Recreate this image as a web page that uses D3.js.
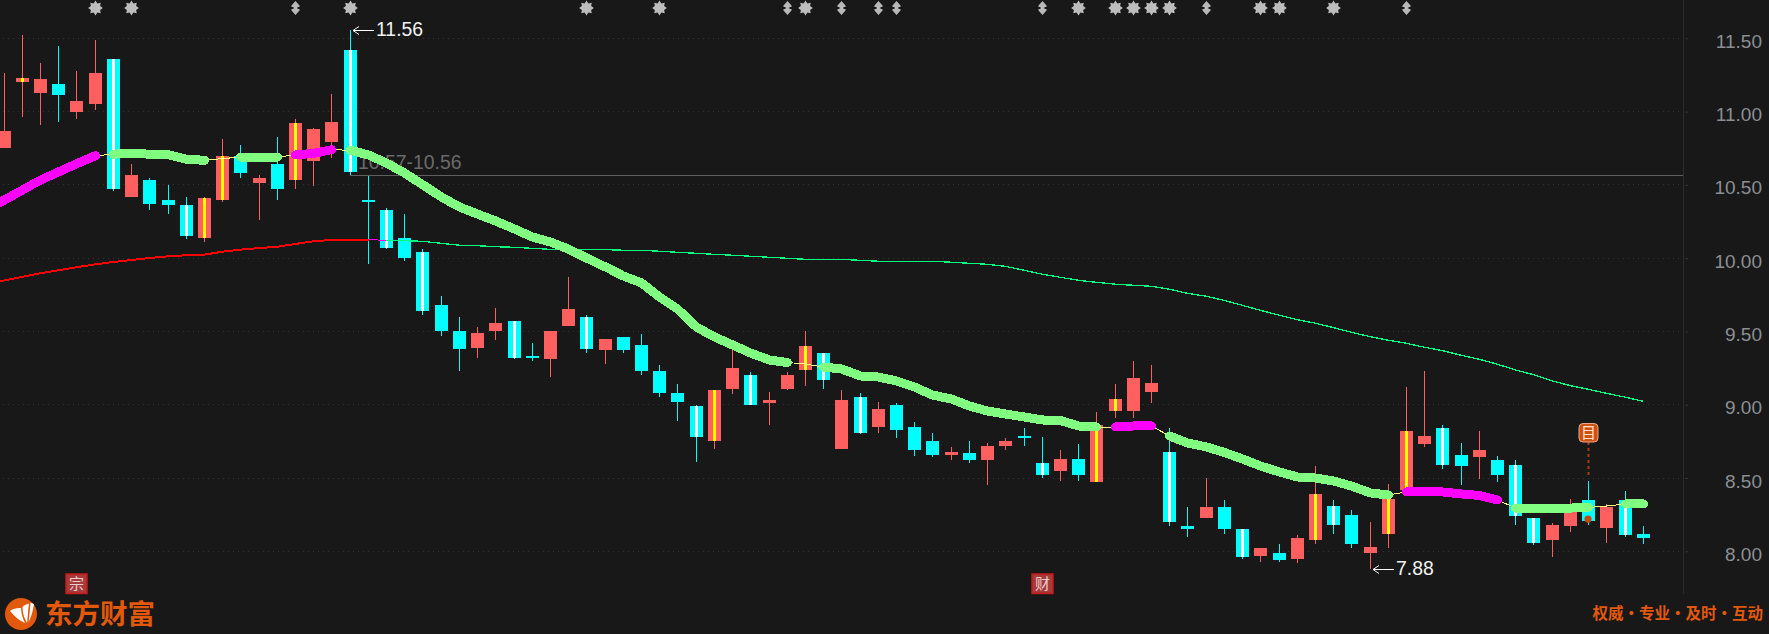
<!DOCTYPE html>
<html>
<head>
<meta charset="utf-8">
<script src="https://cdn.jsdelivr.net/npm/d3@7.9.0/dist/d3.min.js"></script>
<style>
  html, body { margin: 0; padding: 0; background: #181818; overflow: hidden; }
  svg { display: block; }
  text { font-family: "Liberation Sans", sans-serif; }
  .cjk { font-family: "Noto Sans CJK SC", sans-serif; }
</style>
</head>
<body>
<svg id="chart" width="1769" height="634"></svg>
<script>
// candles, left to right
const opens = [10.75,11.20,11.13,11.19,11.00,11.05,11.36,10.42,10.53,10.40,
  10.36,10.14,10.40,10.70,10.51,10.64,10.53,10.66,10.79,11.42,
  10.40,10.33,10.14,10.04,9.68,9.50,9.39,9.50,9.57,9.33,
  9.31,9.54,9.60,9.37,9.46,9.41,9.23,9.08,8.99,8.75,
  9.11,9.20,9.01,9.11,9.24,9.35,8.70,9.05,8.85,9.00,
  8.85,8.75,8.66,8.67,8.62,8.72,8.79,8.60,8.55,8.63,
  8.47,8.96,8.96,9.09,8.68,8.17,8.23,8.30,8.15,7.97,
  7.99,7.95,8.08,8.31,8.25,7.99,8.12,8.42,8.73,8.84,
  8.66,8.64,8.62,8.59,8.23,8.08,8.17,8.35,8.16,8.35,8.12];
const closes = [10.87,11.23,11.22,11.11,11.07,11.26,10.47,10.57,10.37,10.36,
  10.15,10.41,10.70,10.58,10.55,10.47,10.92,10.88,10.93,10.59,
  10.38,10.07,10.00,9.64,9.50,9.38,9.49,9.56,9.32,9.32,
  9.50,9.65,9.38,9.45,9.37,9.23,9.08,9.02,8.78,9.10,
  9.25,9.00,9.03,9.20,9.40,9.17,9.03,8.81,8.97,8.83,
  8.69,8.66,8.68,8.62,8.72,8.75,8.77,8.52,8.63,8.52,
  8.86,9.04,9.18,9.15,8.20,8.15,8.30,8.15,7.96,8.02,
  7.94,8.09,8.39,8.18,8.05,8.03,8.36,8.82,8.79,8.59,
  8.58,8.69,8.52,8.24,8.06,8.18,8.32,8.21,8.30,8.11,8.09];
const highs = [11.26,11.52,11.33,11.45,11.28,11.49,11.36,10.64,10.55,10.50,
  10.42,10.42,10.81,10.77,10.57,10.83,10.95,10.89,11.12,11.56,
  10.56,10.34,10.30,10.06,9.74,9.60,9.53,9.66,9.57,9.42,
  9.50,9.87,9.61,9.45,9.46,9.48,9.27,9.14,9.00,9.10,
  9.38,9.22,9.09,9.22,9.50,9.35,9.10,9.08,9.02,9.01,
  8.88,8.81,8.71,8.75,8.74,8.77,8.84,8.78,8.69,8.73,
  8.95,9.14,9.30,9.27,8.84,8.30,8.50,8.35,8.15,8.02,
  8.05,8.11,8.58,8.35,8.28,8.20,8.46,9.12,9.23,8.86,
  8.74,8.82,8.65,8.62,8.23,8.19,8.36,8.48,8.32,8.41,8.17];
const lows = [10.75,10.96,10.91,10.93,10.95,11.01,10.46,10.42,10.33,10.30,
  10.13,10.11,10.38,10.55,10.26,10.40,10.47,10.49,10.68,10.57,
  9.96,10.06,9.98,9.61,9.47,9.23,9.32,9.44,9.31,9.30,
  9.19,9.54,9.35,9.28,9.35,9.20,9.05,8.89,8.61,8.70,
  9.07,9.00,8.86,9.10,9.13,9.11,8.70,8.80,8.81,8.77,
  8.65,8.64,8.62,8.60,8.45,8.69,8.72,8.50,8.48,8.48,
  8.47,8.91,8.91,9.01,8.17,8.10,8.23,8.12,7.95,7.93,
  7.93,7.92,8.05,8.12,8.02,7.88,8.02,8.42,8.71,8.56,
  8.45,8.49,8.47,8.18,8.04,7.96,8.13,8.18,8.06,8.10,8.05];
// candles that carry the inner stripe
const stripes = [1,6,10,11,12,16,19,21,23,28,32,38,39,41,44,45,47,57,60,61,64,68,72,73,76,77,79,83,84,89];

// both averages start one day off the left edge (index -1)
const maShort = [10.329,10.397,10.465,10.533,10.588,10.644,10.699,10.709,10.717,10.709,10.706,
  10.674,10.668,10.679,10.690,10.690,10.690,10.704,10.715,10.740,10.736,
  10.704,10.649,10.581,10.502,10.417,10.349,10.301,10.254,10.199,10.144,
  10.110,10.062,10.001,9.940,9.878,9.831,9.735,9.653,9.530,9.462,
  9.408,9.353,9.305,9.288,9.278,9.257,9.244,9.196,9.189,9.162,
  9.121,9.066,9.039,8.991,8.957,8.937,8.916,8.896,8.892,8.855,
  8.848,8.848,8.855,8.855,8.787,8.739,8.712,8.674,8.630,8.582,
  8.541,8.507,8.500,8.480,8.445,8.398,8.384,8.405,8.411,8.405,
  8.391,8.381,8.350,8.295,8.295,8.295,8.295,8.299,8.309,8.323,8.323];
const maLong = [9.824,9.848,9.873,9.897,9.917,9.938,9.958,9.974,9.987,10.001,10.013,
  10.020,10.024,10.044,10.058,10.069,10.078,10.097,10.115,10.124,10.126,
  10.126,10.122,10.119,10.115,10.101,10.088,10.085,10.078,10.074,10.067,
  10.060,10.060,10.060,10.058,10.054,10.054,10.047,10.040,10.033,10.026,
  10.020,10.013,10.006,9.999,9.992,9.992,9.992,9.985,9.979,9.979,
  9.979,9.979,9.972,9.965,9.958,9.944,9.917,9.890,9.869,9.849,
  9.835,9.822,9.815,9.808,9.788,9.760,9.740,9.711,9.678,9.644,
  9.610,9.580,9.556,9.526,9.494,9.464,9.440,9.419,9.392,9.369,
  9.337,9.310,9.276,9.237,9.205,9.162,9.130,9.105,9.078,9.051,9.023];

// [first day, last day] of each thick run of the short average
const shortUp = [[-1,5],[16,18],[61,63],[77,82]];
const shortDown = [[6,11],[13,15],[19,43],[45,60],[64,76],[83,87],[89,90]];
// [first day, last day] of the colours of the long average
const longRed = [-1,20];
const longPink = [20,21];
const longGreen = [21,90];

const yTicks = [11.5,11,10.5,10,9.5,9,8.5,8];
const starDays = [5,7,19,32,36,44,59,61,62,63,64,69,70,73];
const shiftDays = [16,43,46,48,49,57,66,77];
const badges = [{ day: 4, label: "宗" }, { day: 57, label: "财" }];
const priceHi = { day: 19, value: 11.56 };
const priceLo = { day: 75, value: 7.88 };
const rangeLine = { day: 19, value: 10.565, label: "10.57-10.56" };
const noteDay = 87;
const noteValueTop = 9.0;
const noteDotValue = 8.22;

const svg = d3.select("#chart");
const colors = { up: "#ff5f5f", down: "#00ffff", upStripe: "#ffff00", downStripe: "#ffffff",
  green: "#80ff80", pink: "#ff00ff", thin: "#ffff80", orange: "#e2590c" };

const x = d3.scaleLinear().domain([0, 90]).range([4.1, 1643.27]);
const y = d3.scaleLinear().domain([8, 11.5]).range([551.3, 38.3]);
const px = i => Math.floor(x(i));
const axisX = 1683;

// grid
const grid = svg.append("g");
yTicks.forEach(t => {
  grid.append("line")
    .attr("x1", 3).attr("x2", axisX - 2)
    .attr("y1", Math.floor(y(t)) + 0.5).attr("y2", Math.floor(y(t)) + 0.5)
    .attr("stroke", "#333").attr("stroke-dasharray", "1 4");
});

// axis
grid.append("line")
  .attr("x1", axisX + 0.5).attr("x2", axisX + 0.5)
  .attr("y1", 0).attr("y2", 594)
  .attr("stroke", "#2c2c2c");
const axis = svg.append("g")
  .attr("transform", `translate(${axisX},0)`)
  .call(d3.axisRight(y).tickValues(yTicks).tickSize(5).tickPadding(0).tickFormat(d3.format(".2f")));
axis.select(".domain").remove();
axis.selectAll(".tick line").attr("stroke", "#333").attr("x1", 2);
axis.selectAll(".tick text")
  .attr("x", 79).attr("dy", 9).attr("y", 0)
  .attr("text-anchor", "end")
  .attr("fill", "#8b8f94")
  .style("font-size", "19px")
  .style("font-family", '"Liberation Sans", sans-serif');

// previous high-low gap
const rangeY = 175.5;
svg.append("line")
  .attr("x1", px(rangeLine.day)).attr("x2", axisX)
  .attr("y1", rangeY).attr("y2", rangeY)
  .attr("stroke", "#5f5f5f");
svg.append("text")
  .attr("x", px(rangeLine.day) + 8).attr("y", 169)
  .attr("fill", "#6a6a6a").style("font-size", "19.4px")
  .text(rangeLine.label);

// candles
const candles = svg.append("g").attr("shape-rendering", "crispEdges");
opens.forEach((o, i) => {
  const c = closes[i];
  const isUp = c > o;
  const fill = isUp ? colors.up : colors.down;
  const cx = px(i);
  const top = Math.round(y(Math.max(o, c)));
  const bot = Math.round(y(Math.min(o, c)));
  const hi = Math.round(y(highs[i]));
  const lo = Math.round(y(lows[i]));
  candles.append("rect").attr("x", cx).attr("y", hi).attr("width", 1).attr("height", lo - hi).attr("fill", fill);
  candles.append("rect").attr("x", cx - 6).attr("y", top).attr("width", 13).attr("height", bot - top).attr("fill", fill);
  if (stripes.includes(i)) {
    candles.append("rect").attr("x", cx - 1).attr("y", top).attr("width", 3).attr("height", bot - top)
      .attr("fill", isUp ? colors.upStripe : colors.downStripe);
  }
});

// averages
const lineOf = (values) => d3.line()
  .x(d => px(d) + 0.5)
  .y(d => y(values[d + 1]));
const days = (a, b) => d3.range(a, b + 1);

const lines = svg.append("g").attr("fill", "none").attr("shape-rendering", "crispEdges");
lines.append("path").attr("d", lineOf(maLong)(days(...longRed))).attr("stroke", "#ff0000").attr("stroke-width", 2);
lines.append("path").attr("d", lineOf(maLong)(days(...longPink))).attr("stroke", colors.pink).attr("stroke-width", 1);
lines.append("path").attr("d", lineOf(maLong)(days(...longGreen))).attr("stroke", "#00ff7f").attr("stroke-width", 1.3);

lines.append("path").attr("d", lineOf(maShort)(days(-1, 90))).attr("stroke", colors.thin).attr("stroke-width", 1);
[[shortUp, colors.pink], [shortDown, colors.green]].forEach(([runs, color]) => {
  runs.forEach(([a, b]) => {
    lines.append("path")
      .attr("d", lineOf(maShort)(days(a, b)))
      .attr("stroke", color)
      .attr("stroke-width", 9)
      .attr("stroke-linecap", "round")
      .attr("stroke-linejoin", "round");
  });
});

// high and low arrows
function priceArrow(item) {
  const ax = px(item.day) + 3;
  const ay = Math.round(y(item.value)) + 0.5;
  svg.append("path")
    .attr("d", `M${ax + 21},${ay}H${ax}M${ax + 6},${ay - 4}L${ax},${ay}L${ax + 6},${ay + 4}`)
    .attr("fill", "none").attr("stroke", "#fff").attr("stroke-width", 1);
  svg.append("text")
    .attr("x", ax + 23).attr("y", ay + 5)
    .attr("fill", "#f2f2f2").style("font-size", "19.4px")
    .text(item.value.toFixed(2));
}
priceArrow(priceHi);
priceArrow(priceLo);

// top markers
const markerY = 8;
const starPath = d3.lineRadial().curve(d3.curveLinearClosed)
  .angle(d => d * Math.PI / 8)
  .radius(d => d % 2 ? 5 : 7.4)(d3.range(16));
svg.append("g").selectAll("path").data(starDays).join("path")
  .attr("transform", d => `translate(${px(d) + 0.5},${markerY})`)
  .attr("d", starPath)
  .attr("fill", "#bdbdbd");
const shiftPath = "M0,-7L4,-2.5V-1H2V1H4V2.5L0,7L-4,2.5V1H-2V-1H-4V-2.5Z";
svg.append("g").selectAll("path").data(shiftDays).join("path")
  .attr("transform", d => `translate(${px(d) + 0.5},${markerY})`)
  .attr("d", shiftPath)
  .attr("fill", "#b8b8b8");

// bottom badges
badges.forEach(b => {
  const bx = px(b.day) + 0.5;
  svg.append("rect")
    .attr("x", bx - 10.5).attr("y", 574).attr("width", 21).attr("height", 19.5)
    .attr("fill", "#a83a3a").attr("stroke", "#c41a1a").attr("stroke-width", 1.5);
  svg.append("text")
    .attr("class", "cjk")
    .attr("x", bx).attr("y", 589)
    .attr("text-anchor", "middle")
    .attr("fill", "#e8cfcf").style("font-size", "15px")
    .text(b.label);
});

// note marker
const noteX = px(noteDay) + 0.5;
svg.append("line")
  .attr("x1", noteX).attr("x2", noteX)
  .attr("y1", 442).attr("y2", y(noteValueTop) + 73)
  .attr("stroke", "#a63c0a").attr("stroke-width", 2).attr("stroke-dasharray", "3 3");
svg.append("circle")
  .attr("cx", noteX - 0.5).attr("cy", y(noteDotValue))
  .attr("r", 3.6).attr("fill", "#c8480c");
svg.append("rect")
  .attr("x", noteX - 9.5).attr("y", 423.5).attr("width", 19).attr("height", 18.5).attr("rx", 4)
  .attr("fill", "#d0500f").attr("stroke", "#e8a98a").attr("stroke-width", 1);
svg.append("text")
  .attr("class", "cjk")
  .attr("x", noteX).attr("y", 438)
  .attr("text-anchor", "middle")
  .attr("fill", "#fbe3d6").style("font-size", "15px")
  .text("目");

// logo
const logo = svg.append("g").attr("transform", "translate(21,614)");
logo.append("circle").attr("r", 16).attr("fill", colors.orange);
["M-11,-3C-7,-6 -3,-6 0,-6C0,-1 2,5 4,9C-1,7 -7,2 -11,-3Z",
 "M1.5,-7C3,-9 6,-10 8,-10.5C7,-5 7,2 6,9C4,5 1.5,0 1.5,-7Z",
 "M9.5,-11C11,-11 12,-10.5 13,-9.5C12,-5 11,2 7.5,8C8.5,2 9,-5 9.5,-11Z"].forEach(d => {
  logo.append("path").attr("d", d).attr("fill", "#fff");
});
svg.append("text")
  .attr("class", "cjk")
  .attr("x", 45).attr("y", 624)
  .attr("fill", colors.orange)
  .style("font-size", "27.5px").style("font-weight", 700)
  .text("东方财富");

svg.append("text")
  .attr("class", "cjk")
  .attr("x", 1763).attr("y", 619)
  .attr("text-anchor", "end")
  .attr("fill", colors.orange)
  .style("font-size", "15.5px").style("font-weight", 700)
  .attr("word-spacing", "-3.5")
  .text("权威 · 专业 · 及时 · 互动");
</script>
</body>
</html>
